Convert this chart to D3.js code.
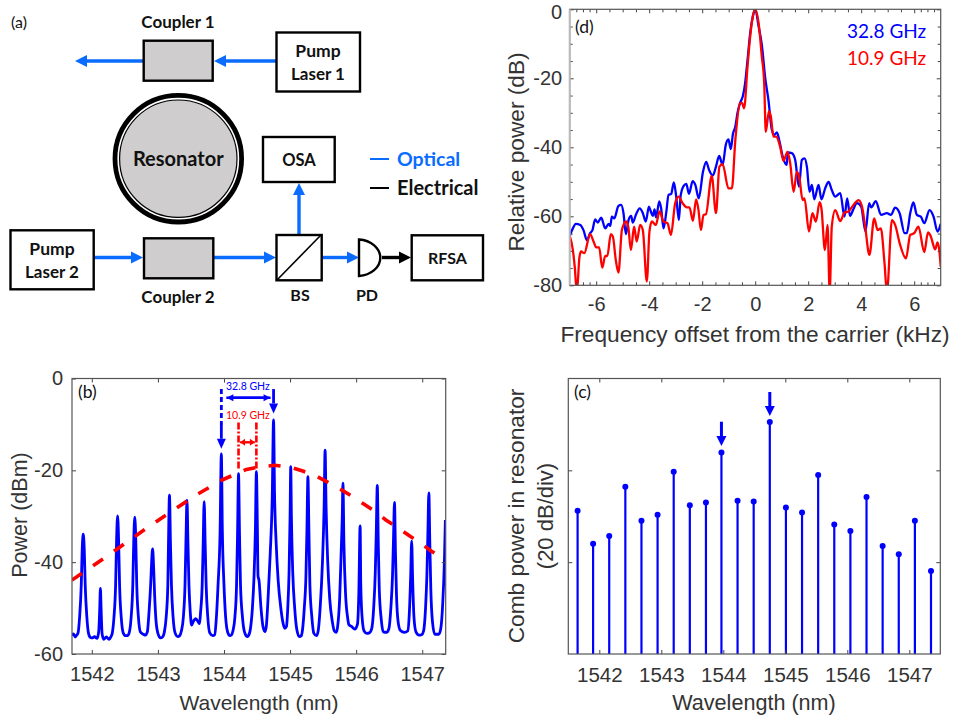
<!DOCTYPE html>
<html>
<head>
<meta charset="utf-8">
<script src="https://cdn.jsdelivr.net/npm/d3@7"></script>
<style>
  html, body { margin: 0; padding: 0; background: #fff; }
  svg { display: block; }
  text { font-family: "Liberation Sans", Arial, sans-serif; fill: #333; }
  .cal { font-family: Lato, sans-serif; fill: #111; }
  .bold { font-weight: 700; }
</style>
</head>
<body>
<svg id="fig" width="954" height="715"></svg>
<script>
// panel (b): optical spectrum [nm, dBm]
var spectrumB = [
  [1541.70,-56.0],[1541.72,-55.6],[1541.75,-56.3],[1541.77,-55.9],[1541.79,-55.5],[1541.815,-52],[1541.84,-45],[1541.855,-37],[1541.87,-33.9],[1541.885,-37],[1541.90,-45],[1541.925,-52],[1541.95,-55.5],[1541.98,-56.4],
  [1542.01,-56.5],[1542.04,-56.2],[1542.08,-56.6],[1542.105,-55],[1542.12,-50],[1542.13,-45.7],[1542.14,-50],[1542.155,-55.5],[1542.18,-56.8],[1542.22,-56.3],[1542.26,-56.8],[1542.29,-56.2],
  [1542.31,-55.4],[1542.335,-52],[1542.36,-45],[1542.375,-35],[1542.39,-29.9],[1542.405,-35],[1542.42,-45],[1542.445,-52],[1542.475,-55.4],[1542.51,-56],[1542.54,-56],
  [1542.565,-55.4],[1542.595,-52],[1542.62,-45],[1542.635,-35],[1542.65,-30.2],[1542.665,-35],[1542.68,-45],[1542.705,-52],[1542.735,-55.2],[1542.78,-55.7],[1542.81,-55.9],
  [1542.84,-55.2],[1542.865,-51],[1542.89,-45],[1542.905,-40],[1542.92,-37.1],[1542.935,-41],[1542.95,-47],[1542.97,-52.5],[1543.00,-55.5],[1543.04,-56.5],[1543.07,-56.3],
  [1543.095,-55.4],[1543.125,-52],[1543.15,-45],[1543.16,-36],[1543.175,-25.4],[1543.19,-36],[1543.205,-45],[1543.23,-52],[1543.26,-55.4],[1543.30,-56.2],[1543.33,-56],
  [1543.355,-55],[1543.385,-52],[1543.41,-45],[1543.425,-35],[1543.44,-26.5],[1543.455,-36],[1543.47,-45],[1543.49,-51],[1543.51,-53.7],[1543.54,-52.8],[1543.57,-52.3],[1543.60,-52.8],[1543.63,-53.4],
  [1543.645,-51],[1543.67,-45],[1543.685,-36],[1543.70,-26.8],[1543.715,-36],[1543.73,-45],[1543.755,-52],[1543.785,-55.4],[1543.83,-56],[1543.86,-55.8],
  [1543.885,-52],[1543.91,-45],[1543.94,-34],[1543.96,-16.4],[1543.975,-33],[1544.00,-45],[1544.025,-52],[1544.055,-55.2],[1544.09,-56],[1544.11,-55.9],
  [1544.135,-55],[1544.165,-52],[1544.19,-45],[1544.205,-34],[1544.22,-20.7],[1544.235,-34],[1544.25,-45],[1544.28,-52],[1544.31,-55.2],[1544.35,-56.2],[1544.37,-56],
  [1544.40,-54.5],[1544.43,-50],[1544.455,-43],[1544.475,-33],[1544.49,-20.3],[1544.505,-32],[1544.515,-43],[1544.53,-44],[1544.56,-50],[1544.59,-54],[1544.62,-55.1],[1544.64,-54],
  [1544.67,-47],[1544.70,-38],[1544.73,-26],[1544.75,-9],[1544.765,-25],[1544.79,-36],[1544.82,-44],[1544.86,-50],[1544.89,-53],[1544.92,-54.4],[1544.945,-54],
  [1544.965,-50],[1544.985,-42],[1545.00,-30],[1545.01,-19.2],[1545.02,-30],[1545.04,-42],[1545.07,-50],[1545.10,-54.5],[1545.14,-56.2],[1545.17,-56],
  [1545.19,-54.5],[1545.215,-50],[1545.24,-43],[1545.255,-33],[1545.27,-21.4],[1545.285,-33],[1545.30,-45],[1545.33,-52],[1545.36,-55.5],[1545.40,-56],
  [1545.425,-55],[1545.455,-50],[1545.49,-40],[1545.515,-28],[1545.53,-15.6],[1545.545,-28],[1545.57,-40],[1545.60,-48],[1545.64,-53],[1545.67,-55],[1545.70,-55.3],
  [1545.72,-54],[1545.75,-48],[1545.775,-37],[1545.79,-30],[1545.80,-22.8],[1545.815,-36],[1545.84,-47],[1545.87,-52],[1545.89,-53.6],[1545.93,-54],[1545.98,-54.6],
  [1546.02,-53.5],[1546.04,-47],[1546.06,-32.1],[1546.07,-45],[1546.09,-52],[1546.12,-55],[1546.16,-55.5],[1546.20,-55.4],
  [1546.235,-54.5],[1546.265,-50],[1546.29,-42],[1546.305,-33],[1546.32,-23.3],[1546.335,-36],[1546.35,-46],[1546.38,-52.5],[1546.41,-55.2],[1546.46,-55.3],
  [1546.495,-54.5],[1546.525,-50],[1546.55,-43],[1546.565,-35],[1546.58,-27],[1546.595,-38],[1546.61,-47],[1546.635,-53],[1546.67,-54.9],[1546.73,-55.3],
  [1546.78,-55],[1546.805,-51],[1546.825,-43],[1546.84,-35.4],[1546.855,-44],[1546.875,-52],[1546.905,-55.2],[1546.95,-55.9],[1546.99,-55.8],
  [1547.02,-55],[1547.05,-50],[1547.07,-43],[1547.085,-34],[1547.10,-24.9],[1547.115,-36],[1547.13,-46],[1547.155,-53],[1547.19,-55.7],[1547.25,-55.7],
  [1547.28,-54.5],[1547.31,-49],[1547.335,-40],[1547.35,-30.8]
];

// panel (b): red dashed envelope
var envelopeB = [
  [1541.70,-43.9],[1542.20,-39.0],[1542.55,-35.4],[1542.88,-32.1],[1543.25,-28.5],[1543.60,-25.2],[1543.97,-22.1],[1544.34,-19.8],
  [1544.57,-19.2],[1544.77,-18.9],[1545.00,-19.3],[1545.18,-20.1],[1545.38,-21.1],[1545.56,-22.5],[1545.76,-24.1],[1545.93,-25.6],
  [1546.11,-27.3],[1546.29,-29],[1546.45,-30.8],[1546.62,-32.4],[1546.80,-34.2],[1546.97,-35.8],[1547.14,-37.6],[1547.32,-39.3],[1547.36,-39.7]
];

// panel (c): comb lines
var combWl = [1541.65,1541.90,1542.16,1542.42,1542.68,1542.94,1543.20,1543.46,1543.72,1543.97,1544.23,1544.49,1544.75,1545.01,1545.27,1545.53,1545.79,1546.05,1546.31,1546.57,1546.83,1547.09,1547.35];
var combDb = [-28.8,-36.0,-34.3,-23.6,-31.0,-29.7,-20.3,-27.6,-27.0,-16.1,-26.6,-26.8,-9.5,-28.1,-29.2,-21.0,-31.8,-33.2,-25.8,-36.5,-38.3,-31.0,-41.9];

// panel (d): beat note spectra [kHz, dB]
var beat328 = [
  [-7,-65.7],[-6.88,-63.5],[-6.77,-62.2],[-6.60,-62.5],[-6.48,-64.0],[-6.35,-66.9],[-6.23,-64.9],[-6.14,-64.0],[-6.04,-60.9],[-5.94,-61.8],[-5.81,-60.4],[-5.66,-63.5],[-5.53,-62.2],[-5.47,-62.8],[-5.41,-60.1],[-5.32,-60.6],[-5.16,-57.0],[-5.06,-56.7],[-4.97,-59.1],[-4.88,-65.2],
  [-4.78,-61.1],[-4.68,-59.9],[-4.62,-61.8],[-4.49,-59.3],[-4.36,-57.7],[-4.24,-59.1],[-4.13,-61.5],[-4.01,-57.2],[-3.94,-58.6],[-3.86,-59.9],[-3.80,-58.0],[-3.74,-60.3],[-3.62,-55.7],[-3.55,-57.7],[-3.46,-63.5],[-3.36,-59.1],[-3.27,-53.8],[-3.17,-53.5],[-3.07,-50.2],[-2.98,-54.3],
  [-2.88,-61.1],[-2.81,-53.8],[-2.70,-51.2],[-2.60,-50.6],[-2.50,-53.5],[-2.36,-49.8],[-2.26,-50.9],[-2.13,-54.8],[-1.97,-47.1],[-1.85,-44.2],[-1.74,-46.6],[-1.60,-48.2],[-1.48,-45.6],[-1.36,-42.5],[-1.23,-45.1],[-1.11,-39.3],[-1.01,-37.7],[-0.92,-40.5],[-0.84,-36.1],[-0.75,-34.0],
  [-0.67,-30.1],[-0.57,-27.1],[-0.47,-25.3],[-0.38,-21.4],[-0.29,-14.7],[-0.19,-7.0],[-0.09,-2.1],[0,0],
  [0.13,-5.0],[0.25,-10.3],[0.38,-20.0],[0.50,-26.3],[0.63,-35.0],[0.72,-36.4],[0.82,-35.7],[0.92,-38.4],[1.04,-42.7],[1.19,-45.1],[1.23,-41.5],[1.38,-41.7],[1.51,-43.7],[1.65,-51.4],[1.76,-43.7],[1.86,-43.2],[1.95,-45.6],[2.05,-52.9],[2.14,-50.9],[2.23,-55.1],
  [2.39,-50.9],[2.50,-55.1],[2.64,-51.9],[2.77,-50.0],[2.89,-52.4],[3.02,-54.3],[3.21,-53.3],[3.37,-60.1],[3.47,-54.8],[3.58,-59.9],[3.69,-58.2],[3.84,-56.2],[4.00,-57.2],[4.16,-64.4],[4.30,-56.2],[4.38,-57.4],[4.55,-55.6],[4.75,-59.6],[4.97,-59.1],[5.12,-59.6],
  [5.28,-57.5],[5.45,-59.1],[5.64,-64.9],[5.72,-64.9],[5.85,-59.1],[5.97,-56.0],[6.10,-59.6],[6.25,-60.1],[6.38,-62.0],[6.58,-58.2],[6.73,-60.1],[6.88,-64.4],[7,-62.2]
];
var beat109 = [
  [-7,-65.7],[-6.88,-69.8],[-6.81,-74.6],[-6.73,-82],[-6.63,-71.7],[-6.57,-70.2],[-6.45,-70.7],[-6.23,-65.2],[-6.10,-67.3],[-6.00,-69.0],[-5.89,-69.0],[-5.77,-74.9],[-5.66,-71.5],[-5.58,-71.5],[-5.45,-65.2],[-5.37,-65.9],[-5.26,-72.7],[-5.16,-76.3],[-5.03,-64.0],[-4.87,-61.5],
  [-4.79,-63.0],[-4.69,-69.8],[-4.57,-63.0],[-4.47,-67.3],[-4.34,-62.5],[-4.24,-64.0],[-4.09,-78.9],[-3.99,-64.4],[-3.90,-61.5],[-3.75,-62.5],[-3.61,-58.6],[-3.46,-61.5],[-3.31,-62.0],[-3.18,-65.4],[-3.02,-56.2],[-2.89,-54.3],[-2.74,-56.2],[-2.58,-57.4],[-2.48,-57.4],[-2.35,-61.3],
  [-2.23,-55.1],[-2.14,-58.2],[-2.05,-64.0],[-1.95,-59.6],[-1.86,-59.4],[-1.64,-48.3],[-1.48,-59.1],[-1.35,-45.6],[-1.23,-44.9],[-1.01,-51.9],[-0.88,-51.9],[-0.75,-37.9],[-0.57,-27.2],[-0.50,-27.1],[-0.42,-28.7],[-0.29,-16.6],[-0.19,-7.9],[-0.09,-2.1],[0,0],
  [0.13,-4.1],[0.25,-13.7],[0.34,-21.4],[0.40,-35.5],[0.52,-29.5],[0.59,-31.1],[0.69,-36.9],[0.79,-36.9],[0.94,-39.8],[1.07,-43.9],[1.22,-41.3],[1.32,-44.6],[1.45,-52.9],[1.57,-47.1],[1.66,-48.5],[1.79,-55.3],[1.86,-54.8],[2.03,-64.4],[2.16,-59.1],[2.29,-61.5],
  [2.43,-55.9],[2.50,-57.7],[2.63,-69.8],[2.73,-62.5],[2.81,-82],[2.89,-63.0],[3.02,-58.2],[3.21,-61.4],[3.37,-58.9],[3.52,-58.6],[3.71,-56.7],[3.90,-55.3],[4.03,-57.2],[4.15,-63.0],[4.31,-71.2],[4.49,-60.6],[4.62,-64.0],[4.74,-63.5],[4.88,-73.6],[4.97,-82],
  [5.16,-61.1],[5.28,-62.5],[5.47,-68.3],[5.69,-72.2],[5.85,-65.4],[6.00,-64.9],[6.16,-63.0],[6.38,-70.4],[6.52,-64.7],[6.63,-65.9],[6.79,-69.6],[6.88,-67.6],[6.96,-70.7],[7,-74.6]
];

var wlTicks = [1542,1543,1544,1545,1546,1547];
var powerTicks = [0,-20,-40,-60];
var combTicks = [-20,-40];
var offsetTicks = [-6,-4,-2,0,2,4,6];
var offsetMinor = [-6.75,-6.5,-6.25,-5.5,-5,-4.5,-3.5,-3,-2.5,-1.5,-1,-0.5,0.5,1,1.5,2.5,3,3.5,4.5,5,5.5,6.25,6.5,6.75];
var relTicks = [0,-20,-40,-60,-80];
var relMinor = [-5,-10,-15,-25,-30,-35,-45,-50,-55,-65,-70,-75];

var BLUE = "#0000ff", RED = "#ff0000", OPT = "#0a6cff", GREY = "#cfcdcd";
var svg = d3.select("#fig");

function arrow(g, x1, y1, x2, y2, color, w, headL, headW) {
  var a = Math.atan2(y2 - y1, x2 - x1),
      bx = x2 - Math.cos(a) * headL, by = y2 - Math.sin(a) * headL,
      nx = -Math.sin(a) * headW / 2, ny = Math.cos(a) * headW / 2;
  g.append("line").attr("x1", x1).attr("y1", y1).attr("x2", bx).attr("y2", by)
    .attr("stroke", color).attr("stroke-width", w);
  g.append("polygon").attr("fill", color)
    .attr("points", [[x2, y2], [bx + nx, by + ny], [bx - nx, by - ny]].map(String).join(" "));
}

function box(g, x0, y0, x1, y1, fill) {
  g.append("rect").attr("x", x0).attr("y", y0).attr("width", x1 - x0).attr("height", y1 - y0)
    .attr("fill", fill || "#fff").attr("stroke", "#000").attr("stroke-width", 2.4);
}

function label(g, x, y, s, size, anchor, cls, color) {
  var t = g.append("text").attr("x", x).attr("y", y).text(s)
    .attr("font-size", size).attr("text-anchor", anchor || "middle").attr("class", cls || "cal bold");
  if (color) t.style("fill", color);
  return t;
}

// frame with inward ticks on all four sides
function frame(g, x, y, o) {
  var w = x.range()[1] - x.range()[0], h = y.range()[0] - y.range()[1];
  var fmt = function(d) { return String(d); };
  function side(axis, tx, ty, size, vals, labels, pad) {
    var s = g.append("g").attr("transform", "translate(" + tx + "," + ty + ")")
      .call(axis.tickValues(vals).tickSize(size).tickPadding(pad).tickFormat(labels ? fmt : ""));
    s.select(".domain").remove();
    s.selectAll("line").attr("stroke", "#444").attr("stroke-width", 1);
    s.selectAll("text").attr("font-size", o.fs).attr("font-family", null).attr("fill", null);
    return s;
  }
  var base = x.range()[0], top = y.range()[1], bot = y.range()[0];
  side(d3.axisBottom(x), 0, bot, -o.tick, o.xTicks, true, o.xPad);
  side(d3.axisTop(x), 0, top, -o.tick, o.xTicks, false, 0);
  var left = side(d3.axisLeft(y), base, 0, -o.tick, o.yTicks, o.yLabels, o.yPad);
  side(d3.axisRight(y), base + w, 0, -o.tick, o.yTicks, false, 0);
  // keep a top label inside the page
  if (o.topNudge) {
    left.selectAll("text").filter(function(d){ return d === 0; }).attr("y", o.topNudge);
  }
  if (o.xMinor) {
    side(d3.axisBottom(x), 0, bot, -o.tick + 1, o.xMinor, false, 0);
    side(d3.axisTop(x), 0, top, -o.tick + 1, o.xMinor, false, 0);
    side(d3.axisLeft(y), base, 0, -o.tick + 1, o.yMinor, false, 0);
    side(d3.axisRight(y), base + w, 0, -o.tick + 1, o.yMinor, false, 0);
  }
  g.append("rect").attr("x", base).attr("y", top).attr("width", w).attr("height", h)
    .attr("fill", "none").attr("stroke", "#555").attr("stroke-width", 1.2);
}

function clipFor(id, x, y) {
  svg.append("clipPath").attr("id", id).append("rect")
    .attr("x", x.range()[0]).attr("y", y.range()[1])
    .attr("width", x.range()[1] - x.range()[0]).attr("height", y.range()[0] - y.range()[1]);
}

/* (a) schematic */
function drawSchematic() {
  var g = svg.append("g");
  label(g, 11, 28, "(a)", 16, "start", "cal");

  arrow(g, 276, 61, 214, 61, OPT, 3.4, 12, 12);
  arrow(g, 144, 61, 75, 61, OPT, 3.4, 12, 12);
  arrow(g, 94, 257.5, 143, 257.5, OPT, 3.4, 12, 12);
  arrow(g, 213, 257.5, 276, 257.5, OPT, 3.4, 12, 12);
  arrow(g, 322, 257.5, 359, 257.5, OPT, 3.4, 12, 12);
  arrow(g, 299, 235, 299, 183, OPT, 3.4, 12, 12);
  arrow(g, 382, 257.5, 411, 257.5, "#000", 3.4, 12, 12);

  box(g, 143.7, 40.7, 212.7, 80.7, GREY);
  box(g, 276.5, 32.5, 360, 91.5);
  box(g, 144, 238.3, 213.3, 278.3, GREY);
  box(g, 10.5, 230.3, 93.7, 289.3);
  box(g, 263, 137, 334.7, 182);
  box(g, 276.5, 235, 321.7, 280.3);
  box(g, 411.7, 235.3, 483, 280.3);
  g.append("line").attr("x1", 277).attr("y1", 280).attr("x2", 321).attr("y2", 235)
    .attr("stroke", "#000").attr("stroke-width", 1.6);

  g.append("path").attr("d", "M359,239.5 A23,18.3 0 0 1 359,276 Z")
    .attr("fill", "#fff").attr("stroke", "#000").attr("stroke-width", 2.4);

  g.append("circle").attr("cx", 178.3).attr("cy", 158.7).attr("r", 63.3)
    .attr("fill", "#fff").attr("stroke", "#000").attr("stroke-width", 4.8);
  g.append("circle").attr("cx", 178.3).attr("cy", 158.7).attr("r", 58.7)
    .attr("fill", GREY).attr("stroke", "#000").attr("stroke-width", 1.2);

  label(g, 178, 28, "Coupler 1", 17);
  label(g, 178, 303, "Coupler 2", 17);
  label(g, 318, 57, "Pump", 17.5);
  label(g, 318, 80, "Laser 1", 17);
  label(g, 52, 255, "Pump", 17.5);
  label(g, 52, 278, "Laser 2", 17);
  label(g, 178.3, 166, "Resonator", 20);
  label(g, 299, 166, "OSA", 16.5);
  label(g, 447.5, 264, "RFSA", 16);
  label(g, 300, 301, "BS", 16);
  label(g, 367, 301, "PD", 16);

  g.append("line").attr("x1", 370).attr("x2", 389).attr("y1", 159).attr("y2", 159)
    .attr("stroke", OPT).attr("stroke-width", 2);
  g.append("line").attr("x1", 370).attr("x2", 389).attr("y1", 188).attr("y2", 188)
    .attr("stroke", "#000").attr("stroke-width", 2);
  label(g, 397, 166, "Optical", 19.5, "start", "cal bold", OPT);
  label(g, 397, 195, "Electrical", 20, "start");
}

/* (b) spectrum */
function drawSpectrum() {
  var x = d3.scaleLinear().domain([1541.70, 1547.355]).range([72, 445.7]),
      y = d3.scaleLinear().domain([-60, 0]).range([654, 378.5]);
  var g = svg.append("g");
  clipFor("clipB", x, y);
  var line = d3.line().x(function(d){ return x(d[0]); }).y(function(d){ return y(d[1]); });

  var marks = g.append("g").attr("clip-path", "url(#clipB)");
  marks.append("path").datum(spectrumB).attr("d", line.curve(d3.curveMonotoneX))
    .attr("fill", "none").attr("stroke", BLUE).attr("stroke-width", 2.8);
  marks.append("path").datum(envelopeB).attr("d", line.curve(d3.curveLinear))
    .attr("fill", "none").attr("stroke", RED).attr("stroke-width", 3.6).attr("stroke-dasharray", "12 13.5");

  frame(g, x, y, {xTicks: wlTicks, yTicks: powerTicks, yLabels: true, tick: 4, xPad: 13, yPad: 9, fs: 20});

  // spacing annotations
  var p1 = 1543.96, p2 = 1544.75, r1 = 1544.22, r2 = 1544.49;
  g.append("line").attr("x1", x(p1)).attr("x2", x(p1)).attr("y1", y(-2.3)).attr("y2", y(-10))
    .attr("stroke", BLUE).attr("stroke-width", 2.8).attr("stroke-dasharray", "5 3");
  arrow(g, x(p1), y(-9.8), x(p1), y(-15.3), BLUE, 2.8, 10, 9);
  arrow(g, x(p2), y(-2.3), x(p2), y(-7.6), BLUE, 2.8, 10, 9);
  arrow(g, x(p1) + 5, y(-4.2), x(p2) - 3, y(-4.2), BLUE, 2.6, 7, 7);
  arrow(g, x(p2) - 3, y(-4.2), x(p1) + 5, y(-4.2), BLUE, 2.6, 7, 7);
  [r1, r2].forEach(function(v) {
    g.append("line").attr("x1", x(v)).attr("x2", x(v)).attr("y1", y(-9.6)).attr("y2", y(-19.8))
      .attr("stroke", RED).attr("stroke-width", 2.6).attr("stroke-dasharray", "7 2 2 2");
  });
  arrow(g, x(r1) + 1.5, y(-13.9), x(r2) - 1.5, y(-13.9), RED, 2, 5, 7);
  arrow(g, x(r2) - 1.5, y(-13.9), x(r1) + 1.5, y(-13.9), RED, 2, 5, 7);
  label(g, 226, 390, "32.8 GHz", 10.5, "start", "cal", BLUE);
  label(g, 226, 419, "10.9 GHz", 10.5, "start", "cal", RED);

  label(g, 78, 398, "(b)", 17.5, "start", "cal");
  label(g, 259, 710, "Wavelength (nm)", 21, "middle", "ax", "#333");
  label(g, 0, 0, "Power (dBm)", 21.5, "middle", "ax", "#333")
    .attr("transform", "translate(26.5,515) rotate(-90)");
}

/* (c) comb lines */
function drawComb() {
  var x = d3.scaleLinear().domain([1541.5, 1547.5]).range([568.3, 940.3]),
      y = d3.scaleLinear().domain([-60, 0]).range([654, 378.5]);
  var g = svg.append("g");
  var rows = combWl.map(function(w, i){ return {w: w, p: combDb[i]}; });

  g.selectAll(".stem").data(rows).enter().append("line").attr("class", "stem")
    .attr("x1", function(d){ return x(d.w); }).attr("x2", function(d){ return x(d.w); })
    .attr("y1", y(-60)).attr("y2", function(d){ return y(d.p); })
    .attr("stroke", BLUE).attr("stroke-width", 2.2);
  g.selectAll(".dot").data(rows).enter().append("circle").attr("class", "dot")
    .attr("cx", function(d){ return x(d.w); }).attr("cy", function(d){ return y(d.p); })
    .attr("r", 3).attr("fill", BLUE);

  frame(g, x, y, {xTicks: wlTicks, yTicks: combTicks, yLabels: false, tick: 4, xPad: 13, yPad: 9, fs: 20.5});

  arrow(g, x(combWl[9]), 421.7, x(combWl[9]), 446, BLUE, 3, 10, 10);
  arrow(g, x(combWl[12]), 392, x(combWl[12]), 416, BLUE, 3, 10, 10);

  label(g, 574, 398, "(c)", 17.5, "start", "cal");
  label(g, 754, 710, "Wavelength (nm)", 21.6, "middle", "ax", "#333");
  label(g, 0, 0, "Comb power in resonator", 22.7, "middle", "ax", "#333")
    .attr("transform", "translate(524,516) rotate(-90)");
  label(g, 0, 0, "(20 dB/div)", 22, "middle", "ax", "#333")
    .attr("transform", "translate(553,516) rotate(-90)");
}

/* (d) beat note */
function drawBeat() {
  var x = d3.scaleLinear().domain([-7, 7]).range([569.7, 940.7]),
      y = d3.scaleLinear().domain([-80, 0]).range([285.3, 9.3]);
  var g = svg.append("g");
  clipFor("clipD", x, y);
  var line = d3.line().x(function(d){ return x(d[0]); }).y(function(d){ return y(d[1]); })
    .curve(d3.curveMonotoneX);
  var marks = g.append("g").attr("clip-path", "url(#clipD)");
  marks.append("path").datum(beat328).attr("d", line)
    .attr("fill", "none").attr("stroke", BLUE).attr("stroke-width", 2.3);
  marks.append("path").datum(beat109).attr("d", line)
    .attr("fill", "none").attr("stroke", RED).attr("stroke-width", 2.3);

  frame(g, x, y, {xTicks: offsetTicks, yTicks: relTicks, yLabels: true, tick: 4, xPad: 12, yPad: 7.5, fs: 20, topNudge: 3,
    xMinor: offsetMinor, yMinor: relMinor});
  // the left spine reads lighter and wider in the original
  g.append("line").attr("x1", x(-7)).attr("x2", x(-7)).attr("y1", y(0)).attr("y2", y(-80))
    .attr("stroke", "#bbb").attr("stroke-width", 2);

  label(g, 575, 33, "(d)", 17.5, "start", "cal");
  label(g, 847, 38, "32.8 GHz", 19, "start", "cal", BLUE);
  label(g, 847, 65, "10.9 GHz", 19, "start", "cal", RED);
  label(g, 755, 341.5, "Frequency offset from the carrier (kHz)", 22.7, "middle", "ax", "#333");
  label(g, 0, 0, "Relative power (dB)", 22.7, "middle", "ax", "#333")
    .attr("transform", "translate(524.3,152) rotate(-90)");
}

drawSchematic();
drawSpectrum();
drawComb();
drawBeat();
</script>
</body>
</html>
